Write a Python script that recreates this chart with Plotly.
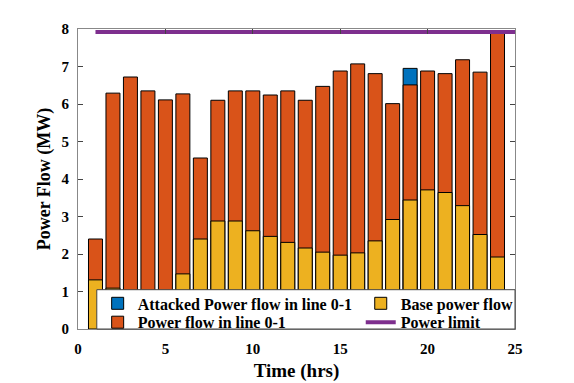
import plotly.graph_objects as go

# hourly data
hours = list(range(1, 25))
power_flow = [2.40, 6.29, 6.72, 6.35, 6.11, 6.27, 4.56, 6.10, 6.35, 6.35, 6.24, 6.35,
              6.10, 6.47, 6.88, 7.07, 6.81, 6.01, 6.51, 6.88, 6.81, 7.18, 6.85, 7.89]
base_flow = [1.31, 1.09, 1.00, 0.95, 0.90, 1.47, 2.40, 2.88, 2.88, 2.62, 2.47, 2.31,
             2.16, 2.05, 1.97, 2.03, 2.35, 2.92, 3.44, 3.71, 3.64, 3.29, 2.52, 1.92]
attacked_flow = [None] * 18 + [6.95] + [None] * 5
limit_hours = [1, 25]
power_limit = [7.92, 7.92]

FONT = "Liberation Serif"
BLUE, ORANGE, YELLOW, PURPLE = "#0072BD", "#D95319", "#EDB120", "#7E2F8E"

fig = go.Figure()
fig.add_trace(go.Bar(x=hours, y=attacked_flow, width=0.8, name="Attacked Power flow in line 0-1",
                     marker=dict(color=BLUE, line=dict(color="black", width=1)), legend="legend"))
fig.add_trace(go.Bar(x=hours, y=power_flow, width=0.8, name="Power flow in line 0-1",
                     marker=dict(color=ORANGE, line=dict(color="black", width=1)), legend="legend3"))
fig.add_trace(go.Bar(x=hours, y=base_flow, width=0.8, name="Base power flow",
                     marker=dict(color=YELLOW, line=dict(color="black", width=1)), legend="legend2"))
fig.add_trace(go.Scatter(x=limit_hours, y=power_limit, mode="lines", name="Power limit",
                         line=dict(color=PURPLE, width=4), legend="legend4"))
fig.update_traces(showlegend=True)

bold = dict(family=FONT, color="black", weight="bold")

axis_common = dict(showline=True, linecolor="#888888", linewidth=1, mirror="ticks",
                   ticks="inside", ticklen=5, tickcolor="#444444", showgrid=False, zeroline=False,
                   automargin=False, tickfont=dict(size=15, **bold))

legend_common = dict(bgcolor="rgba(0,0,0,0)", borderwidth=0, orientation="v",
                     font=dict(size=16, **bold), tracegroupgap=0, visible=True,
                     yanchor="top", xanchor="left", itemwidth=30)

fig.update_layout(
    width=574, height=383,
    margin=dict(l=78, r=59, t=29, b=54),
    paper_bgcolor="white", plot_bgcolor="white",
    barmode="overlay", showlegend=True,
    xaxis=dict(range=[0, 25], tickvals=[0, 5, 10, 15, 20, 25], ticklabelstandoff=6,
               title=dict(text="Time (hrs)", font=dict(size=19, **bold), standoff=7),
               **axis_common),
    yaxis=dict(range=[0, 8], tickvals=list(range(0, 9)), ticklabelstandoff=5,
               title=dict(text="Power Flow (MW)", font=dict(size=18, **bold), standoff=6),
               **axis_common),
    legend=dict(x=0.045, y=0.142, **legend_common),
    legend2=dict(x=0.647, y=0.142, **legend_common),
    legend3=dict(x=0.045, y=0.079, **legend_common),
    legend4=dict(x=0.647, y=0.079, **legend_common),
    shapes=[dict(type="rect", xref="paper", yref="paper", x0=0.043, x1=1.0, y0=0.0, y1=0.131,
                 fillcolor="white", line=dict(color="#444444", width=1), layer="above")],
)

fig.write_html("out.html", config={"displayModeBar": False},
               post_script="document.body.style.margin='0';")
